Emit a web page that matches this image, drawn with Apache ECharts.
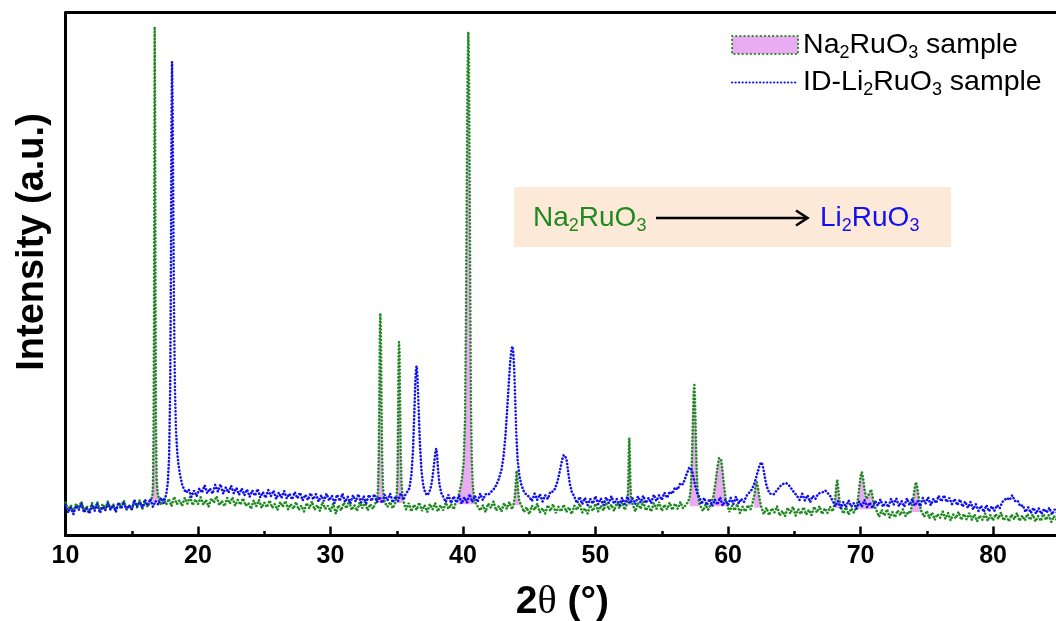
<!DOCTYPE html>
<html><head><meta charset="utf-8">
<script src="https://cdn.jsdelivr.net/npm/echarts@6/dist/echarts.min.js"></script>
<style>html,body{margin:0;padding:0;background:#fff}#c{width:1056px;height:621px}</style>
</head><body><div id="c"></div>
<script>
// ---------- data (2theta in degrees, intensity in a.u.) ----------
const xTicks = [10, 20, 30, 40, 50, 60, 70, 80];
const seriesNames = ['Na2RuO3 sample', 'ID-Li2RuO3 sample'];

const naSample = [
[10.0,63],[10.2,49],[10.4,58],[10.6,45],[10.8,61],[11.0,53],[11.2,65],[11.4,48],[11.6,56],[11.8,46],[12.0,62],[12.2,51],[12.4,64],[12.6,48],[12.8,60],[13.0,51],[13.2,65],[13.4,51],[13.6,60],[13.8,47],[14.0,63],[14.2,55],[14.4,67],[14.6,50],[14.8,58],[15.0,49],[15.2,66],[15.4,54],[15.6,68],[15.8,51],[16.0,63],[16.2,55],[16.4,66],
[16.55,74],[16.6,95],[16.64,180],[16.68,420],[16.71,760],[16.73,973],[16.76,820],[16.79,480],[16.83,210],[16.88,110],[16.95,82],[17.05,70],
[17.2,58],[17.4,72],[17.6,59],[17.8,70],[18.0,56],[18.2,74],[18.4,60],[18.6,67],[18.8,57],[19.0,72],[19.2,61],[19.4,74],[19.6,58],[19.8,69],[20.0,60],[20.2,73],[20.4,59],[20.6,68],[20.8,55],[21.0,71],[21.2,63],[21.4,75],[21.6,58],[21.8,66],[22.0,56],[22.2,72],[22.4,61],[22.6,73],[22.8,57],[23.0,68],[23.2,59],[23.4,71],[23.6,57],[23.8,62],[24.0,51],[24.2,67],[24.4,56],[24.6,68],[24.8,53],[25.0,63],[25.2,54],[25.4,67],[25.6,53],[25.8,60],[26.0,49],[26.2,64],[26.4,55],[26.6,66],[26.8,50],[27.0,60],[27.2,51],[27.4,64],[27.6,49],[27.8,57],[28.0,46],[28.2,62],[28.4,52],[28.6,65],[28.8,49],[29.0,58],[29.2,47],[29.4,64],[29.6,51],[29.8,57],[30.0,46],[30.2,61],[30.4,42],[30.6,58],[30.8,48],[31.0,63],[31.2,52],[31.4,66],[31.6,49],[31.8,58],[32.0,47],[32.2,63],[32.4,52],[32.6,65],[32.8,48],[33.0,60],[33.2,51],[33.4,62],
[33.5,68],[33.58,85],[33.64,150],[33.69,280],[33.73,400],[33.76,425],[33.8,390],[33.85,260],[33.9,150],[33.96,95],[34.03,72],[34.12,62],[34.3,55],[34.5,64],[34.7,52],[34.9,63],
[35.0,78],[35.06,120],[35.11,250],[35.14,340],[35.17,370],[35.21,350],[35.25,260],[35.3,160],[35.36,100],[35.44,74],[35.56,60],[35.7,50],[35.9,62],[36.1,46],[36.3,59],[36.5,49],[36.7,63],[36.9,47],[37.1,58],[37.3,45],[37.5,60],[37.7,50],[37.9,62],[38.1,46],[38.3,58],[38.5,48],[38.7,63],[38.9,51],[39.1,60],[39.3,50],[39.45,63],
[39.6,70],[39.75,85],[39.9,105],[40.05,140],[40.15,220],[40.22,400],[40.28,650],[40.34,880],[40.4,963],[40.45,900],[40.5,700],[40.55,450],[40.6,250],[40.66,150],[40.73,100],[40.82,75],[40.95,62],
[41.1,62],[41.3,48],[41.5,58],[41.7,45],[41.9,61],[42.1,53],[42.3,65],[42.5,48],[42.7,56],[42.9,46],[43.1,62],[43.3,51],[43.5,64],[43.7,50],[43.82,60],
[43.9,72],[43.97,95],[44.02,118],[44.05,124],[44.1,110],[44.16,85],[44.25,65],
[44.4,58],[44.6,45],[44.8,54],[45.0,41],[45.2,57],[45.4,49],[45.6,61],[45.8,44],[46.0,52],[46.2,42],[46.4,58],[46.6,47],[46.8,60],[47.0,43],[47.2,55],[47.4,46],[47.6,59],[47.8,45],[48.0,54],[48.2,41],[48.4,57],[48.6,49],[48.8,61],[49.0,44],[49.2,52],[49.4,42],[49.6,58],[49.8,47],[50.0,61],[50.2,46],[50.4,57],[50.6,48],[50.8,63],[51.0,50],[51.2,59],[51.4,47],[51.6,62],[51.8,52],[52.0,64],[52.2,49],[52.34,58],
[52.42,65],[52.48,110],[52.52,170],[52.55,186],[52.58,165],[52.63,100],[52.7,66],
[52.8,60],[53.0,46],[53.2,62],[53.4,51],[53.6,65],[53.8,48],[54.0,56],[54.2,46],[54.4,62],[54.6,51],[54.8,64],[55.0,47],[55.2,59],[55.4,50],[55.6,63],[55.8,49],[56.0,61],[56.2,51],[56.4,64],[56.6,52],[56.8,58],[56.95,63],
[57.1,72],[57.2,95],[57.28,150],[57.35,220],[57.41,275],[57.46,288],[57.51,260],[57.57,190],[57.64,120],[57.72,80],[57.82,62],
[57.95,55],[58.1,47],[58.3,59],[58.5,49],[58.7,60],
[58.9,75],[59.05,100],[59.2,130],[59.32,148],[59.4,151],[59.48,145],[59.58,125],[59.7,95],[59.82,70],[59.95,58],
[60.1,45],[60.3,57],[60.5,48],[60.7,60],[60.9,43],[61.1,55],[61.3,46],[61.5,58],[61.7,50],[61.85,62],
[61.97,75],[62.07,92],[62.17,102],[62.27,90],[62.38,70],[62.5,55],
[62.7,41],[62.9,53],[63.1,39],[63.3,52],[63.5,44],[63.7,56],[63.9,38],[64.1,47],[64.3,37],[64.5,53],[64.7,42],[64.9,55],[65.1,38],[65.3,50],[65.5,41],[65.7,54],[65.9,40],[66.1,49],[66.3,39],[66.5,55],[66.7,44],[66.9,56],[67.1,41],[67.3,52],[67.5,43],[67.7,55],[67.9,46],[68.0,56],
[68.08,70],[68.17,95],[68.24,107],[68.31,92],[68.4,68],[68.55,52],
[68.7,42],[68.9,54],[69.1,40],[69.3,52],[69.5,44],[69.7,56],
[69.82,72],[69.92,95],[70.02,115],[70.1,121],[70.18,112],[70.3,88],[70.45,70],[70.6,72],[70.72,84],[70.8,88],[70.9,76],[71.02,58],
[71.2,48],[71.4,36],[71.6,49],[71.8,38],[72.0,50],[72.2,34],[72.4,45],[72.6,35],[72.8,48],[73.0,39],[73.2,50],[73.4,37],[73.6,46],[73.75,42],
[73.85,55],[73.98,70],[74.08,90],[74.18,102],[74.26,96],[74.36,78],[74.48,58],[74.6,46],
[74.8,36],[75.0,47],[75.2,33],[75.4,44],[75.6,30],[75.8,41],[76.0,34],[76.2,46],[76.4,32],[76.6,43],[76.8,29],[77.0,40],[77.2,33],[77.4,45],[77.6,30],[77.8,41],[78.0,31],[78.2,43],[78.4,30],[78.6,40],[78.8,27],[79.0,38],[79.2,30],[79.4,42],[79.6,28],[79.8,39],[80.0,29],[80.2,41],[80.4,32],[80.6,44],[80.8,29],[81.0,37],[81.2,27],[81.4,40],[81.6,31],[81.8,43],[82.0,28],[82.2,38],[82.4,29],[82.6,41],[82.8,30],[83.0,40],[83.2,27],[83.4,37],[83.6,28],[83.8,41],[84.0,30],[84.2,39],[84.4,26],[84.6,37],[84.8,30],[85.0,36]
];

const idSample = [
[10.0,58],[10.2,44],[10.4,54],[10.6,41],[10.8,57],[11.0,49],[11.2,61],[11.4,44],[11.6,52],[11.8,42],[12.0,58],[12.2,47],[12.4,60],[12.6,43],[12.8,55],[13.0,48],[13.2,62],[13.4,49],[13.6,58],[13.8,45],[14.0,63],[14.2,51],[14.4,64],[14.6,49],[14.8,58],[15.0,50],[15.2,68],[15.4,55],[15.6,64],[15.8,53],[16.0,69],[16.2,57],[16.4,70],[16.6,55],[16.8,66],[17.0,59],[17.2,72],[17.4,62],
[17.6,78],[17.72,100],[17.82,150],[17.9,280],[17.96,520],[18.0,780],[18.04,906],[18.08,840],[18.13,650],[18.19,430],[18.26,280],[18.34,200],[18.43,160],[18.53,135],[18.65,115],[18.8,98],[18.95,88],[19.1,82],
[19.3,88],[19.5,74],[19.7,86],[19.9,75],[20.1,90],[20.3,82],[20.5,96],[20.7,81],[20.9,90],[21.1,80],[21.3,97],[21.5,84],[21.7,98],[21.9,80],[22.1,92],[22.3,82],[22.5,95],[22.7,81],[22.9,91],[23.1,78],[23.3,90],[23.5,77],[23.7,88],[23.9,74],[24.1,86],[24.3,76],[24.5,89],[24.7,73],[24.9,83],[25.1,72],[25.3,87],[25.5,75],[25.7,86],[25.9,70],[26.1,82],[26.3,72],[26.5,85],[26.7,71],[26.9,80],[27.1,69],[27.3,83],[27.5,71],[27.7,82],[27.9,67],[28.1,78],[28.3,68],[28.5,81],[28.7,69],[28.9,79],[29.1,65],[29.3,77],[29.5,66],[29.7,80],[29.9,67],[30.1,76],[30.3,62],[30.5,78],[30.7,66],[30.9,80],[31.1,64],[31.3,74],[31.5,62],[31.7,77],[31.9,65],[32.1,79],[32.3,63],[32.5,75],[32.7,62],[32.9,78],[33.1,66],[33.3,79],[33.5,64],[33.7,74],[33.9,62],[34.1,78],[34.3,67],[34.5,80],[34.7,63],[34.9,75],[35.1,66],[35.3,81],[35.5,68],[35.65,78],
[35.75,77],[35.95,90],[36.1,115],[36.22,160],[36.32,230],[36.4,295],[36.46,320],[36.5,324],[36.56,305],[36.64,250],[36.74,180],[36.86,125],[37.0,95],[37.15,82],[37.3,77],[37.45,82],[37.6,95],[37.72,115],[37.83,140],[37.92,160],[37.98,166],[38.04,155],[38.12,125],[38.22,98],[38.35,82],[38.5,74],
[38.7,64],[38.9,78],[39.1,62],[39.3,75],[39.5,63],[39.7,77],[39.9,61],[40.1,73],[40.3,63],[40.5,79],[40.7,64],[40.9,76],[41.1,64],[41.3,80],[41.5,68],[41.7,79],
[41.9,78],[42.1,83],[42.3,88],[42.5,96],[42.7,108],[42.9,125],[43.05,150],[43.2,190],[43.33,240],[43.45,290],[43.57,335],[43.66,355],[43.72,362],[43.78,355],[43.86,320],[43.94,260],[44.02,195],[44.12,145],[44.25,115],[44.4,97],[44.58,85],[44.78,78],[45.0,74],
[45.2,66],[45.4,80],[45.6,68],[45.8,79],[46.0,65],[46.2,77],[46.4,70],[46.6,84],
[46.8,84],[46.95,90],[47.15,105],[47.32,125],[47.48,145],[47.6,154],[47.7,156],[47.8,148],[47.92,125],[48.05,100],[48.2,84],[48.4,74],
[48.6,62],[48.8,74],[49.0,60],[49.2,72],[49.4,58],[49.6,70],[49.8,61],[50.0,75],[50.2,60],[50.4,71],[50.6,58],[50.8,73],[51.0,62],[51.2,75],[51.4,61],[51.6,70],[51.8,58],[52.0,72],[52.2,60],[52.4,74],[52.6,61],[52.8,71],[53.0,60],[53.2,75],[53.4,63],[53.6,76],[53.8,62],[54.0,72],[54.2,62],[54.4,78],[54.6,66],[54.8,77],[55.0,68],[55.2,82],[55.4,72],
[55.6,84],[55.8,80],[56.0,92],[56.2,88],[56.4,100],[56.6,98],[56.8,112],[56.95,122],[57.08,130],[57.18,132],[57.28,125],[57.4,110],[57.55,92],[57.7,80],[57.85,73],
[58.0,60],[58.2,72],[58.4,58],[58.6,70],[58.8,56],[59.0,69],[59.2,59],[59.4,73],[59.6,57],[59.8,68],[60.0,58],[60.2,72],[60.4,60],[60.6,74],[60.8,61],[61.0,70],[61.2,64],[61.4,76],[61.55,78],
[61.8,88],[62.0,100],[62.2,118],[62.38,134],[62.5,140],[62.6,136],[62.72,120],[62.86,100],[63.0,88],[63.15,80],[63.3,77],[63.45,79],[63.6,84],[63.8,90],[64.0,96],[64.2,99],[64.4,100],[64.6,96],[64.8,89],[65.0,82],[65.2,76],
[65.4,68],[65.6,80],[65.8,67],[66.0,77],[66.2,64],[66.4,76],[66.6,70],[66.8,80],[66.95,79],[67.15,83],[67.35,86],[67.5,85],[67.7,76],[67.9,66],
[68.1,56],[68.3,66],[68.5,52],[68.7,64],[68.9,54],[69.1,67],[69.3,55],[69.5,62],[69.7,51],[69.9,65],[70.1,55],[70.3,68],[70.5,54],[70.7,63],[70.9,52],[71.1,66],[71.3,57],[71.5,69],[71.7,55],[71.9,64],[72.1,54],[72.3,70],[72.5,59],[72.7,71],[72.9,56],[73.1,66],[73.3,55],[73.5,71],[73.7,58],[73.9,70],[74.1,57],[74.3,66],[74.5,56],[74.7,72],[74.9,61],[75.1,73],[75.3,58],[75.5,70],[75.7,62],[75.9,76],[76.1,65],[76.3,77],[76.5,64],[76.7,72],[76.9,60],[77.1,70],[77.3,58],[77.5,69],[77.7,55],[77.9,65],[78.1,53],[78.3,64],[78.5,50],[78.7,60],[78.9,47],[79.1,57],[79.3,45],[79.5,58],[79.7,46],[79.9,56],[80.1,47],[80.3,58],[80.5,52],[80.7,64],
[80.85,63],[81.05,72],[81.25,68],[81.45,77],[81.65,66],[81.85,67],[82.05,56],[82.25,58],
[82.45,45],[82.65,54],[82.85,43],[83.05,53],[83.25,42],[83.45,52],[83.65,41],[83.85,51],[84.05,44],[84.25,53],[84.45,40],[84.65,50],[84.85,43],[85.0,48]
];

// peak windows that carry the pink fill under the Na2RuO3 curve: [from, to, fill base]
const fillWindows = [
[16.5,17.05,64],[33.5,34.12,62],[35.0,35.44,62],[39.6,40.95,60],[43.9,44.25,58],[52.42,52.7,58],
[57.1,57.82,56],[58.9,59.95,56],[61.97,62.5,53],[68.08,68.4,52],[69.82,71.02,50],[73.85,74.6,45]
];

// ---------- styling ----------
const GREEN = '#1f8a1f', BLUE = '#1010f0', PINK = '#e9acf3';
const FONT = "'Liberation Sans', Arial, sans-serif";
const dotStyle = (c) => ({ color: c, width: 2.6, type: [0.1, 3.4], cap: 'round' });

const chart = echarts.init(document.getElementById('c'), null, { renderer: 'canvas' });

const fillSeries = fillWindows.map((w, i) => ({
  type: 'line', name: 'fill' + i, xAxisIndex: 0, yAxisIndex: 0,
  data: naSample.filter(p => p[0] >= w[0] && p[0] <= w[1]),
  symbol: 'none', silent: true, z: 1,
  lineStyle: { width: 0, opacity: 0 },
  areaStyle: { color: PINK, opacity: 1, origin: w[2] }
}));

const richSub = {
  n: { fontSize: 28.5, fontFamily: FONT, lineHeight: 34, verticalAlign: 'middle', color: '#000' },
  s: { fontSize: 18, fontFamily: FONT, lineHeight: 34, verticalAlign: 'bottom', color: '#000' }
};

const gridBox = { left: 65.5, right: -3.3, top: 12.7, bottom: 85.5, containLabel: false, outerBoundsMode: 'none' };

const option = {
  animation: false,
  backgroundColor: '#fff',
  grid: [ Object.assign({}, gridBox), Object.assign({}, gridBox) ],
  xAxis: [
    {
      type: 'value', gridIndex: 0, position: 'bottom', min: 10, max: 85, interval: 10,
      axisLine: { show: true, lineStyle: { color: '#000', width: 3 } },
      axisTick: { show: true, inside: true, length: 9, lineStyle: { color: '#000', width: 2.5 } },
      axisLabel: {
        formatter: v => xTicks.includes(v) ? String(v) : '',
        fontSize: 25, fontWeight: 'bold', color: '#000', fontFamily: FONT, margin: 8
      },
      splitLine: { show: false },
      name: '{b|2}{t|θ}{b| (°)}', nameLocation: 'middle', nameGap: 47,
      nameTextStyle: {
        rich: {
          b: { fontSize: 39, fontWeight: 'bold', fontFamily: FONT, color: '#000' },
          t: { fontSize: 40, fontFamily: "'Liberation Serif', serif", color: '#000' }
        }
      }
    },
    {
      type: 'value', gridIndex: 0, position: 'top', min: 10, max: 85,
      axisLine: { show: true, lineStyle: { color: '#000', width: 3 } },
      axisTick: { show: false }, axisLabel: { show: false }, splitLine: { show: false }
    },
    {
      type: 'value', gridIndex: 1, position: 'bottom', min: 10, max: 85, interval: 5,
      axisLine: { show: false },
      axisTick: { show: true, inside: true, length: 4.5, lineStyle: { color: '#000', width: 2.5 } },
      axisLabel: { show: false }, splitLine: { show: false }
    }
  ],
  yAxis: [
    {
      type: 'value', gridIndex: 0, min: 0, max: 1000,
      axisLine: { show: true, lineStyle: { color: '#000', width: 3 } },
      axisTick: { show: false }, axisLabel: { show: false }, splitLine: { show: false }
    },
    {
      type: 'value', gridIndex: 1, min: 0, max: 1000, show: false
    }
  ],
  legend: {
    orient: 'vertical', left: 731, top: 30.5, padding: 0, itemGap: 6,
    itemWidth: 66, itemHeight: 18, selectedMode: false,
    data: [
      { name: seriesNames[0], icon: 'rect',
        itemStyle: { color: PINK, borderColor: GREEN, borderWidth: 2.2, borderType: [0.1, 4], borderCap: 'round' } },
      { name: seriesNames[1], itemStyle: { opacity: 0 },
        lineStyle: { color: BLUE, width: 2.2, type: [0.1, 3.4], cap: 'round' } }
    ],
    formatter: name => name === seriesNames[0]
      ? '{n|Na}{s|2}{n|RuO}{s|3}{n| sample}'
      : '{n|ID-Li}{s|2}{n|RuO}{s|3}{n| sample}',
    textStyle: { fontSize: 28.5, fontFamily: FONT, color: '#000', rich: richSub }
  },
  graphic: [
    {
      type: 'text', x: 33, y: 242, rotation: Math.PI / 2, z: 10,
      style: { text: 'Intensity (a.u.)', font: "bold 38px 'Liberation Sans'", fill: '#000',
               textAlign: 'center', textVerticalAlign: 'middle' }
    },
    {
      type: 'rect', z: 0, shape: { x: 514, y: 187, width: 437, height: 60 },
      style: { fill: '#fde9d8' }
    },
    {
      type: 'text', x: 533, y: 218, z: 10,
      style: {
        text: '{n|Na}{s|2}{n|RuO}{s|3}', textVerticalAlign: 'middle',
        rich: {
          n: { fontSize: 28, fontFamily: FONT, fill: GREEN, lineHeight: 34, verticalAlign: 'middle' },
          s: { fontSize: 18, fontFamily: FONT, fill: GREEN, lineHeight: 34, verticalAlign: 'bottom' }
        }
      }
    },
    {
      type: 'line', z: 10, shape: { x1: 656, y1: 218, x2: 807, y2: 218 },
      style: { stroke: '#000', lineWidth: 2.6 }
    },
    {
      type: 'polyline', z: 10, shape: { points: [[796, 210.5], [807.5, 218], [796, 225.5]] },
      style: { stroke: '#000', lineWidth: 2.6, fill: null }
    },
    {
      type: 'text', x: 820, y: 218, z: 10,
      style: {
        text: '{n|Li}{s|2}{n|RuO}{s|3}', textVerticalAlign: 'middle',
        rich: {
          n: { fontSize: 28, fontFamily: FONT, fill: BLUE, lineHeight: 34, verticalAlign: 'middle' },
          s: { fontSize: 18, fontFamily: FONT, fill: BLUE, lineHeight: 34, verticalAlign: 'bottom' }
        }
      }
    }
  ],
  series: fillSeries.concat([
    {
      type: 'line', name: seriesNames[0], xAxisIndex: 0, yAxisIndex: 0,
      data: naSample, symbol: 'none', z: 3, lineStyle: dotStyle(GREEN), itemStyle: { color: GREEN }
    },
    {
      type: 'line', name: seriesNames[1], xAxisIndex: 0, yAxisIndex: 0,
      data: idSample, symbol: 'none', z: 4, lineStyle: dotStyle(BLUE), itemStyle: { color: BLUE }
    }
  ])
};
chart.setOption(option);
</script>
</body></html>
